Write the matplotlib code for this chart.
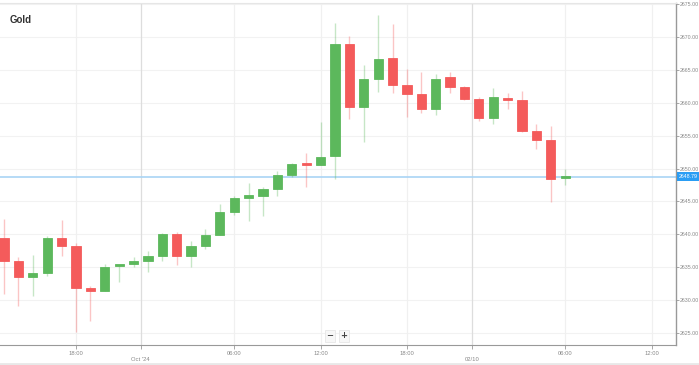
import matplotlib.pyplot as plt
from matplotlib.patches import Rectangle

plt.rcParams['font.family'] = ['Liberation Sans', 'DejaVu Sans']

# hourly candles
opens  = [2639.4, 2636.0, 2633.6, 2634.2, 2639.5, 2638.2, 2631.8, 2631.4, 2635.2, 2635.5,
          2636.0, 2636.75, 2640.1, 2636.75, 2638.3, 2639.9, 2643.4, 2645.6, 2645.9, 2646.9,
          2649.0, 2650.6, 2650.6, 2651.9, 2668.9, 2659.3, 2663.65, 2666.75, 2662.7, 2661.3,
          2659.0, 2663.85, 2662.4, 2660.6, 2657.7, 2660.75, 2660.35, 2655.65, 2654.4, 2648.5]
highs  = [2642.4, 2636.5, 2636.8, 2639.7, 2642.2, 2638.7, 2632.1, 2635.5, 2635.4, 2636.5,
          2637.5, 2640.2, 2640.3, 2639.0, 2640.8, 2644.65, 2645.8, 2647.75, 2647.2, 2649.6,
          2650.9, 2652.3, 2657.0, 2672.1, 2670.1, 2665.7, 2673.4, 2672.0, 2665.1, 2664.6,
          2664.4, 2664.7, 2662.5, 2660.9, 2662.2, 2661.5, 2661.8, 2656.8, 2656.4, 2649.9]
lows   = [2630.9, 2629.2, 2630.7, 2633.7, 2636.75, 2625.1, 2626.9, 2631.4, 2632.8, 2635.0,
          2634.3, 2635.9, 2635.4, 2635.0, 2637.8, 2639.9, 2642.9, 2642.1, 2642.8, 2645.8,
          2648.7, 2647.2, 2650.6, 2648.35, 2657.6, 2654.1, 2661.6, 2661.5, 2657.9, 2658.5,
          2658.1, 2661.5, 2660.45, 2657.3, 2656.7, 2659.1, 2655.6, 2652.9, 2644.9, 2647.5]
closes = [2635.9, 2633.6, 2634.2, 2639.4, 2638.2, 2631.8, 2631.4, 2635.0, 2635.3, 2636.0,
          2636.75, 2640.1, 2636.75, 2638.3, 2639.9, 2643.4, 2645.6, 2645.9, 2646.9, 2649.0,
          2650.7, 2650.5, 2651.8, 2668.9, 2659.3, 2663.65, 2666.6, 2662.7, 2661.3, 2659.0,
          2663.55, 2662.4, 2660.6, 2657.7, 2660.8, 2660.4, 2655.65, 2654.4, 2648.35, 2648.79]
last_price = 2648.79

# time axis labels (positions in candle index units)
time_ticks = [5, 9.5, 16, 22, 28, 32.5, 39, 45]
time_labels = ['18:00', "Oct '24", '06:00', '12:00', '18:00', '02/10', '06:00', '12:00']
y_ticks = [2625, 2630, 2635, 2640, 2645, 2650, 2655, 2660, 2665, 2670, 2675]

green = '#5cb85c'
red = '#f45b5b'

fig = plt.figure(figsize=(6.99, 3.65), dpi=100)
ax = fig.add_axes([0.0, 20 / 365, 676 / 699, 342 / 365])

for i in range(len(opens)):
    o, h, l, c = opens[i], highs[i], lows[i], closes[i]
    col = green if c >= o else red
    ax.vlines(i, l, h, color=col, lw=1.0, alpha=0.35, zorder=2)
    bottom = min(o, c)
    height = max(abs(c - o), 0.35)
    ax.add_patch(Rectangle((i - 0.32, bottom), 0.64, height, facecolor=col,
                           edgecolor=col, lw=0.6, zorder=3))

# last price line
ax.axhline(last_price, color='#a9d4f5', lw=1.2, zorder=1)
ax.text(1.004, last_price, '%.2f' % last_price, transform=ax.get_yaxis_transform(),
        fontsize=3.8, color='white', va='center', ha='left',
        bbox=dict(boxstyle='square,pad=0.3', fc='#2a9df4', ec='none'), clip_on=False)

ax.set_xlim(-0.28, 46.7)
ax.set_ylim(2623.2, 2675.15)

for v in y_ticks:
    ax.axhline(v, color='#f2f2f2', lw=0.8, zorder=0)
for t, lab in zip(time_ticks, time_labels):
    day = lab in ("Oct '24", '02/10')
    ax.axvline(t, color='#dddddd' if day else '#f0f0f0', lw=0.9, zorder=0)

ax.set_xticks(time_ticks)
ax.set_xticklabels(['\n' + l if l in ("Oct '24", '02/10') else l for l in time_labels])
ax.yaxis.tick_right()
ax.set_yticks(y_ticks)
ax.set_yticklabels(['%.2f' % v for v in y_ticks])
ax.tick_params(axis='both', labelsize=4.2, labelcolor='#888888', color='#999999',
               width=0.6)
ax.tick_params(axis='y', length=2, pad=1, labelsize=3.8)
ax.tick_params(axis='x', length=3, pad=1.5)

ax.spines['left'].set_visible(False)
ax.spines['top'].set_color('#e6e6e6')
ax.spines['right'].set_color('#999999')
ax.spines['bottom'].set_color('#999999')
ax.spines['right'].set_linewidth(1.0)
ax.spines['bottom'].set_linewidth(0.8)

ax.text(0.014, 0.965, 'Gold', transform=ax.transAxes, fontsize=7, fontweight='bold',
        color='#333333', va='top', ha='left')

# zoom buttons
for xp, sym in [(330, '\u2212'), (344, '+')]:
    fig.text(xp / 699, 1 - 336 / 365, sym, fontsize=6, fontweight='bold', color='#444444',
             ha='center', va='center', family='DejaVu Sans',
             bbox=dict(boxstyle='square,pad=0.2', fc='#f7f7f7', ec='#e3e3e3', lw=0.5))

fig.add_artist(plt.Line2D([0, 1], [1.5 / 365, 1.5 / 365], color='#e8e8e8', lw=2,
                          transform=fig.transFigure))

fig.savefig('out.png', dpi=100)
